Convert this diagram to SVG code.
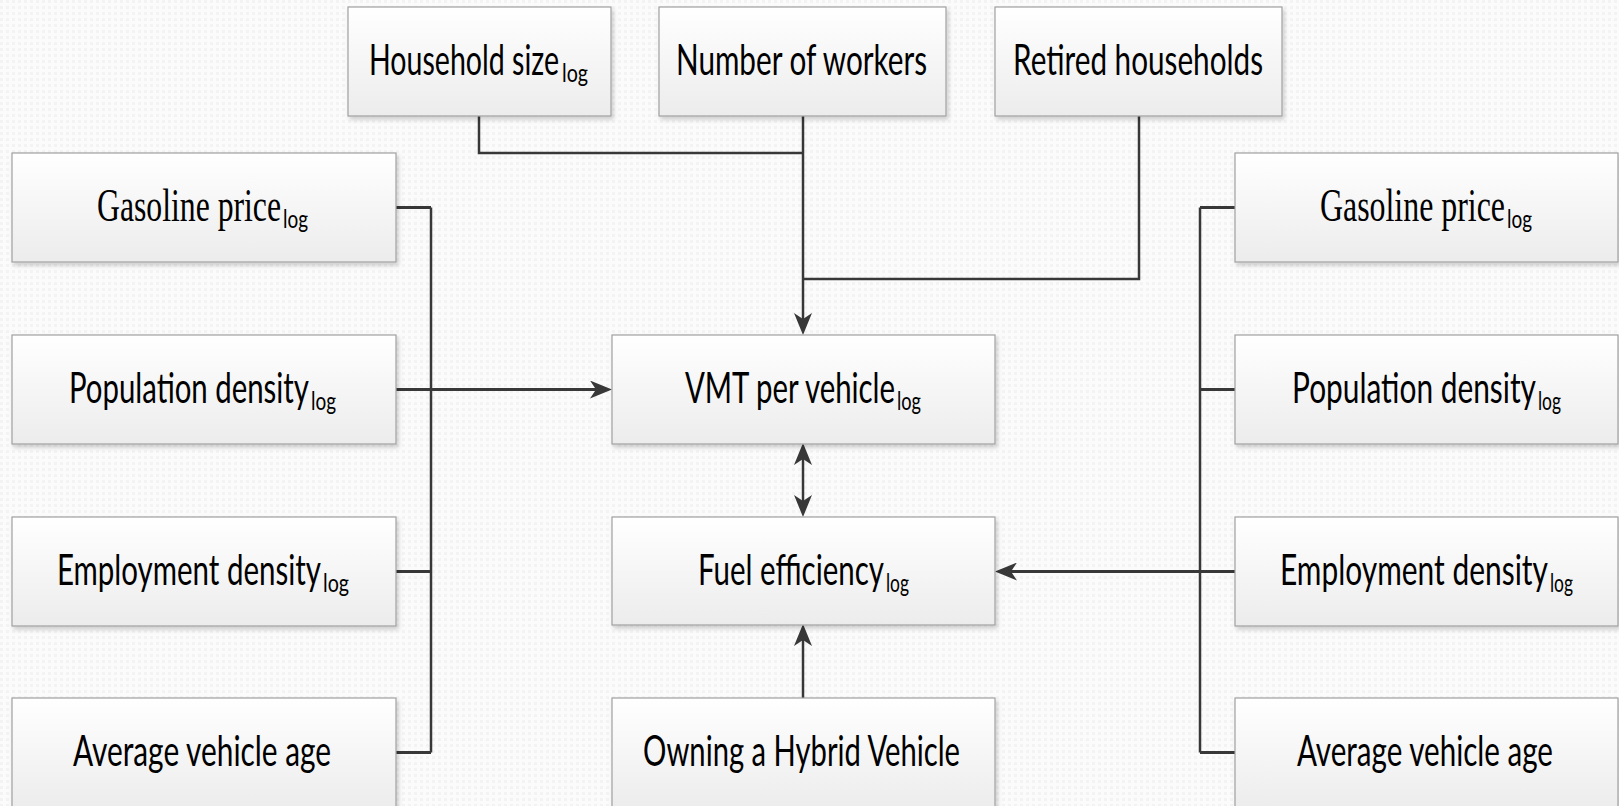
<svg xmlns="http://www.w3.org/2000/svg" width="1619" height="806" viewBox="0 0 1619 806">
<style>
.box{fill:url(#bg);stroke:#a0a0a0;stroke-width:1.2;filter:url(#sh)}
.t{font-family:Lato,"Open Sans","Liberation Sans",sans-serif;font-size:42px;fill:#000}
.s{font-family:"Liberation Serif","DejaVu Serif",serif;font-size:46px;fill:#000}
.sub{font-family:Lato,"Open Sans","Liberation Sans",sans-serif;font-size:25px;fill:#000}
.c{fill:none;stroke:#383838;stroke-width:2.5}
.a{fill:none;stroke:#383838;stroke-width:3.2}
</style>
<defs>
<linearGradient id="bg" x1="0" y1="0" x2="0" y2="1">
<stop offset="0" stop-color="#ffffff"/>
<stop offset="1" stop-color="#ececec"/>
</linearGradient>
<filter id="sh" x="-5%" y="-10%" width="115%" height="130%">
<feDropShadow dx="2" dy="3" stdDeviation="2" flood-color="#000" flood-opacity="0.18"/>
</filter>
<pattern id="dots" width="6" height="6" patternUnits="userSpaceOnUse">
<rect width="6" height="6" fill="#fbfbfb"/>
<rect width="3" height="3" fill="#f3f3f3"/>
</pattern>
<marker id="ah" markerUnits="userSpaceOnUse" markerWidth="22" markerHeight="18" viewBox="0 0 22 18" refX="17" refY="9" orient="auto-start-reverse">
<path d="M0,0 L22,9 L0,18 L6,9 Z" fill="#383838"/>
</marker>
</defs>
<rect width="1619" height="806" fill="url(#dots)"/>

<g id="connectors">
<path class="c" d="M479,116 V153 H803"/>
<path class="c" d="M1139,116 V279 H803"/>
<path class="c" d="M803,116 V330" marker-end="url(#ah)"/>
<path class="c" d="M431,207.5 V752.5"/>
<path class="a" d="M396,207.5 H431 M396,571.5 H431 M396,752.5 H431"/>
<path class="a" d="M396,389.5 H607" marker-end="url(#ah)"/>
<path class="c" d="M1200,207.5 V752.5"/>
<path class="a" d="M1200,207.5 H1235 M1200,389.5 H1235 M1200,752.5 H1235"/>
<path class="a" d="M1235,571.5 H1000" marker-end="url(#ah)"/>
<path class="c" d="M803,448 V512" marker-start="url(#ah)" marker-end="url(#ah)"/>
<path class="c" d="M803,698 V629" marker-end="url(#ah)"/>
</g>

<g id="household-size">
<rect class="box" x="348" y="7" width="263" height="109"/>
<text class="t" x="369" y="74.5" textLength="190" lengthAdjust="spacingAndGlyphs">Household size</text>
<text class="sub" x="562" y="82" textLength="26" lengthAdjust="spacingAndGlyphs">log</text>
</g>
<g id="number-of-workers">
<rect class="box" x="659" y="7" width="287" height="109"/>
<text class="t" x="676" y="74.5" textLength="251" lengthAdjust="spacingAndGlyphs">Number of workers</text>
</g>
<g id="retired-households">
<rect class="box" x="995" y="7" width="287" height="109"/>
<text class="t" x="1013" y="74.5" textLength="250" lengthAdjust="spacingAndGlyphs">Retired households</text>
</g>

<g id="gasoline-price-left">
<rect class="box" x="12" y="153" width="384" height="109"/>
<text class="s" x="97" y="221" textLength="184" lengthAdjust="spacingAndGlyphs">Gasoline price</text>
<text class="sub" x="283" y="228" textLength="25" lengthAdjust="spacingAndGlyphs">log</text>
</g>
<g id="population-density-left">
<rect class="box" x="12" y="335" width="384" height="109"/>
<text class="t" x="69" y="402.5" textLength="240" lengthAdjust="spacingAndGlyphs">Population density</text>
<text class="sub" x="311" y="410" textLength="25" lengthAdjust="spacingAndGlyphs">log</text>
</g>
<g id="employment-density-left">
<rect class="box" x="12" y="517" width="384" height="109"/>
<text class="t" x="57" y="584.5" textLength="264" lengthAdjust="spacingAndGlyphs">Employment density</text>
<text class="sub" x="323" y="592" textLength="26" lengthAdjust="spacingAndGlyphs">log</text>
</g>
<g id="average-vehicle-age-left">
<rect class="box" x="12" y="698" width="384" height="112"/>
<text class="t" x="73" y="765.5" textLength="258" lengthAdjust="spacingAndGlyphs">Average vehicle age</text>
</g>

<g id="vmt-per-vehicle">
<rect class="box" x="612" y="335" width="383" height="109"/>
<text class="t" x="685" y="402.5" textLength="210" lengthAdjust="spacingAndGlyphs">VMT per vehicle</text>
<text class="sub" x="897" y="410" textLength="24" lengthAdjust="spacingAndGlyphs">log</text>
</g>
<g id="fuel-efficiency">
<rect class="box" x="612" y="517" width="383" height="108"/>
<text class="t" x="698" y="584.5" textLength="186" lengthAdjust="spacingAndGlyphs">Fuel efficiency</text>
<text class="sub" x="886" y="592" textLength="23" lengthAdjust="spacingAndGlyphs">log</text>
</g>
<g id="owning-hybrid">
<rect class="box" x="612" y="698" width="383" height="112"/>
<text class="t" x="643" y="765.5" textLength="317" lengthAdjust="spacingAndGlyphs">Owning a Hybrid Vehicle</text>
</g>

<g id="gasoline-price-right">
<rect class="box" x="1235" y="153" width="383" height="109"/>
<text class="s" x="1320" y="221" textLength="185" lengthAdjust="spacingAndGlyphs">Gasoline price</text>
<text class="sub" x="1507" y="228" textLength="25" lengthAdjust="spacingAndGlyphs">log</text>
</g>
<g id="population-density-right">
<rect class="box" x="1235" y="335" width="383" height="109"/>
<text class="t" x="1292" y="402.5" textLength="244" lengthAdjust="spacingAndGlyphs">Population density</text>
<text class="sub" x="1538" y="410" textLength="23" lengthAdjust="spacingAndGlyphs">log</text>
</g>
<g id="employment-density-right">
<rect class="box" x="1235" y="517" width="383" height="109"/>
<text class="t" x="1280" y="584.5" textLength="268" lengthAdjust="spacingAndGlyphs">Employment density</text>
<text class="sub" x="1550" y="592" textLength="23" lengthAdjust="spacingAndGlyphs">log</text>
</g>
<g id="average-vehicle-age-right">
<rect class="box" x="1235" y="698" width="383" height="112"/>
<text class="t" x="1297" y="765.5" textLength="256" lengthAdjust="spacingAndGlyphs">Average vehicle age</text>
</g>
</svg>
